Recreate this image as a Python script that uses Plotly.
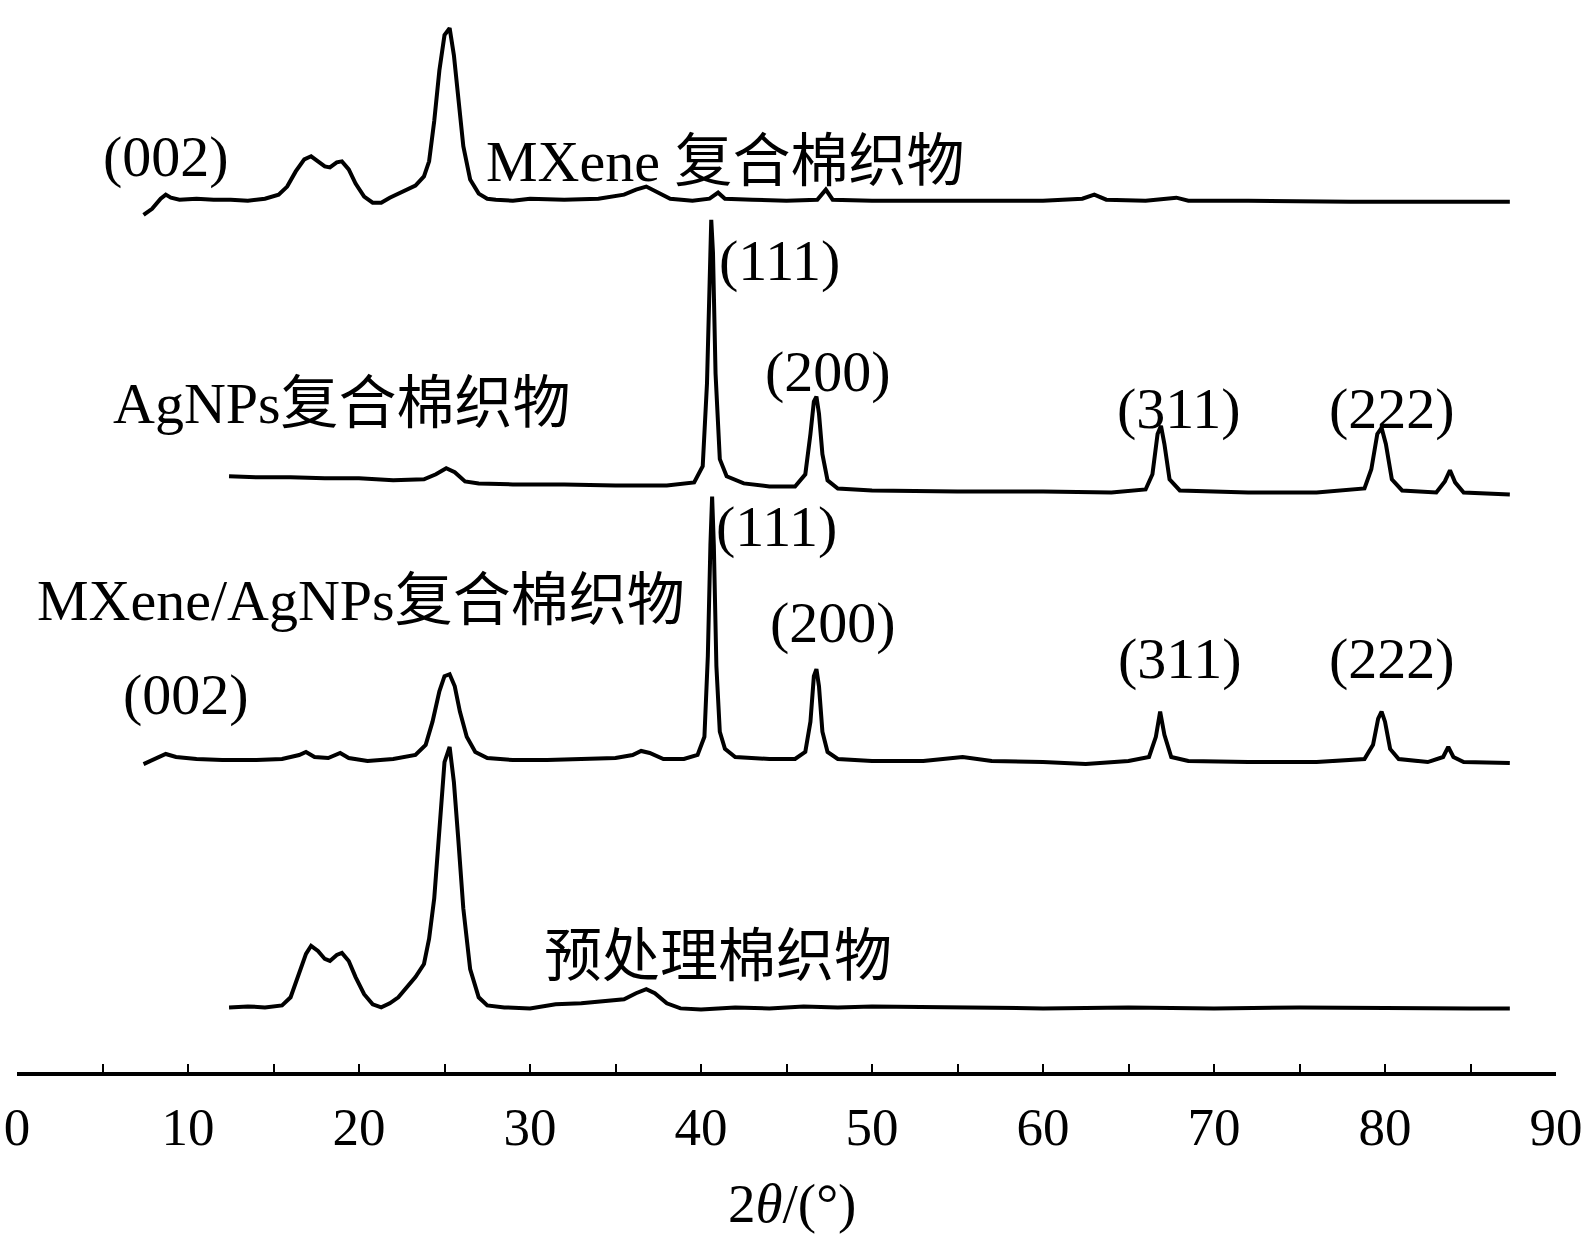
import plotly.graph_objects as go

# ---- data (2θ in degrees, intensity in arbitrary units) ----
mx_x = [7.4, 7.9, 8.4, 8.7, 9.0, 9.5, 10.5, 11.5, 12.5, 13.5, 14.5, 15.3, 15.8, 16.3, 16.8, 17.2,
        17.6, 18.0, 18.3, 18.7, 19.0, 19.4, 19.8, 20.3, 20.8, 21.3, 21.8, 22.3, 22.8, 23.3, 23.8,
        24.1, 24.4, 24.7, 25.0, 25.3, 25.55, 25.8, 26.1, 26.5, 27.0, 27.5, 28, 29, 30, 32, 34, 35.5,
        36.2, 36.8, 37.4, 38.2, 39.5, 40.5, 41.0, 41.4, 43, 45, 46.8, 47.3, 47.7, 50, 55, 60, 62.3,
        63.0, 63.7, 66, 67.8, 68.5, 72, 78, 84, 87.3]
mx_y = [7, 13, 23, 27, 24, 22, 23, 22, 22, 21, 23, 27, 35, 50, 62, 65,
        60, 55, 54, 59, 60, 52, 38, 25, 19, 19, 24, 28, 32, 36, 45,
        60, 100, 150, 185, 192, 165, 120, 75, 42, 28, 23, 22, 21, 23, 22, 23, 27,
        32, 35, 30, 23, 21, 23, 29, 23, 22, 21, 22, 32, 22, 21, 21, 21, 23,
        27, 22, 21, 24, 21, 21, 20, 20, 20]

ag_x = [12.4, 14, 16, 18, 20, 22, 23.8, 24.5, 25.1, 25.6, 26.2, 27, 29, 32, 35, 38, 39.6, 40.1,
        40.35, 40.5, 40.6, 40.7, 40.85, 41.1, 41.5, 42.5, 44, 45.5, 46.1, 46.4, 46.6, 46.75, 46.9,
        47.1, 47.4, 48, 50, 55, 60, 64, 66.0, 66.4, 66.7, 66.9, 67.1, 67.4, 68, 72, 76, 78.8, 79.2,
        79.55, 79.8, 80.05, 80.4, 81, 83.0, 83.5, 83.8, 84.1, 84.6, 87.3]
ag_y = [28, 27, 27, 26, 26, 24, 25, 30, 36, 32, 23, 21, 20, 20, 19, 19, 22, 38,
        120, 230, 282, 250, 130, 45, 28, 21, 18, 18, 30, 70, 102, 107, 90,
        50, 24, 16, 14, 13, 13, 12, 15, 30, 70, 78, 60, 25, 14, 12, 12, 16, 35,
        70, 76, 60, 25, 14, 12, 23, 34, 22, 12, 10]

mxag_x = [7.4, 8.0, 8.7, 9.3, 10.5, 12, 14, 15.5, 16.5, 16.9, 17.4, 18.2, 18.9, 19.4, 20.5, 22,
          23.3, 23.9, 24.3, 24.7, 25.0, 25.3, 25.6, 25.9, 26.3, 26.8, 27.5, 29, 31, 33, 35, 36.0,
          36.5, 37.0, 37.8, 39.0, 39.8, 40.2, 40.4, 40.55, 40.65, 40.75, 40.9, 41.1, 41.4, 42, 44,
          45.5, 46.1, 46.4, 46.6, 46.75, 46.9, 47.1, 47.4, 48, 50, 53, 55.3, 57, 60, 62.5, 63.2, 65,
          66.2, 66.6, 66.85, 67.1, 67.5, 68.5, 72, 76, 78.8, 79.3, 79.6, 79.8, 80.0, 80.3, 80.8,
          82.5, 83.4, 83.7, 84.0, 84.6, 87.3]
mxag_y = [13, 18, 23, 20, 18, 17, 17, 18, 22, 25, 20, 19, 24, 19, 16, 18,
          22, 32, 55, 85, 100, 102, 90, 65, 40, 25, 19, 17, 17, 18, 19, 22,
          26, 24, 18, 18, 22, 40, 120, 230, 278, 230, 110, 45, 28, 20, 18,
          18, 25, 55, 100, 107, 90, 45, 25, 18, 16, 16, 20, 16, 15, 13, 14, 16,
          20, 40, 65, 42, 20, 16, 15, 15, 18, 32, 58, 65, 55, 28, 18,
          15, 20, 30, 20, 15, 14]

pre_x = [12.4, 13.5, 14.5, 15.5, 16.0, 16.5, 16.9, 17.2, 17.6, 18.0, 18.3, 18.7, 19.0, 19.4, 19.8,
         20.3, 20.8, 21.3, 21.8, 22.3, 22.8, 23.3, 23.8, 24.1, 24.4, 24.7, 25.0, 25.3, 25.55, 25.8,
         26.1, 26.5, 27.0, 27.5, 28.5, 30, 31.5, 33, 34.5, 35.5, 36.2, 36.8, 37.3, 38.0, 38.8, 40,
         42, 44, 46, 48, 50, 55, 60, 65, 70, 75, 80, 85, 87.3]
pre_y = [12, 13, 12, 14, 22, 45, 65, 73, 68, 60, 58, 64, 66, 58, 42,
         25, 15, 12, 16, 22, 32, 42, 55, 80, 120, 190, 255, 270, 235, 180,
         110, 50, 22, 14, 12, 11, 15, 16, 18, 20, 26, 30, 26, 16, 11, 10,
         12, 11, 13, 12, 13, 12, 11, 12, 11, 12, 11, 11, 11]

offsets = [842, 562, 292, 52]  # vertical stacking offsets (a.u.)

series = [(mx_x, mx_y), (ag_x, ag_y), (mxag_x, mxag_y), (pre_x, pre_y)]

# labels: (text, 2θ position, level in a.u.)
label_text = ["(002)", "MXene 复合棉织物", "(111)", "AgNPs复合棉织物", "(200)", "(311)", "(222)",
              "(111)", "MXene/AgNPs复合棉织物", "(200)", "(002)", "(311)", "(222)", "预处理棉织物"]
label_x = [8.7, 41.4, 44.6, 19.0, 47.4, 67.9, 80.4,
           44.4, 20.1, 47.7, 9.9, 68.0, 80.4, 41.0]
label_y = [907, 902, 804, 662, 694, 657, 657,
           540, 467, 445, 374, 410, 410, 114]

tick_vals = [0, 10, 20, 30, 40, 50, 60, 70, 80, 90]

FONT = "Liberation Serif, Times New Roman, Noto Sans CJK SC, serif"

fig = go.Figure()
for (xs, ys), off in zip(series, offsets):
    fig.add_trace(go.Scatter(x=xs, y=[v + off for v in ys], mode="lines",
                             line=dict(color="black", width=4), showlegend=False,
                             hoverinfo="skip"))

for t, x, y in zip(label_text, label_x, label_y):
    fig.add_annotation(x=x, y=y, xref="x", yref="y", text=t, showarrow=False,
                       font=dict(family=FONT, size=58, color="black"),
                       xanchor="center", yanchor="middle")

fig.add_annotation(x=45.3, y=-0.1224, xref="x", yref="paper", text="2<i>θ</i>/(°)",
                   showarrow=False, font=dict(family=FONT, size=55, color="black"),
                   xanchor="center", yanchor="middle")

fig.update_layout(
    width=1583, height=1238,
    margin=dict(l=17, r=27, t=0, b=166),
    paper_bgcolor="white", plot_bgcolor="white",
    xaxis=dict(range=[0, 90], tickvals=tick_vals, ticks="inside", ticklen=8, tickwidth=2,
               tickcolor="black", showline=True, linecolor="black", linewidth=4,
               showgrid=False, zeroline=False, automargin=False,
               tickfont=dict(family=FONT, size=53, color="black"),
               ticklabelstandoff=5,
               minor=dict(dtick=5, tick0=0, ticks="inside", ticklen=8, tickwidth=2,
                          tickcolor="black", showgrid=False)),
    yaxis=dict(range=[0, 1061.8], visible=False, showgrid=False, zeroline=False,
               automargin=False),
)

fig.write_html("out.html", config={"displayModeBar": False},
               post_script="document.body.style.margin='0px';")
